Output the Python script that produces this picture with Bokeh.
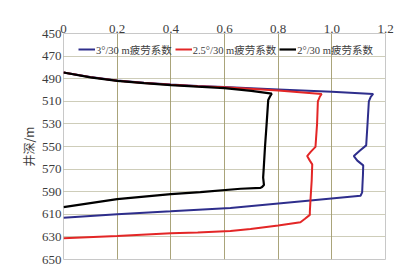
from bokeh.plotting import figure
from bokeh.models import Range1d, FixedTicker, CustomJSTickFormatter, Legend, LegendItem
from bokeh.embed import file_html
from bokeh.resources import INLINE

# ---- data (fatigue factor vs. well depth) ----
x_ticks = [0, 0.2, 0.4, 0.6, 0.8, 1.0, 1.2]
y_ticks = [450, 470, 490, 510, 530, 550, 570, 590, 610, 630, 650]

labels = ["3°/30 m疲劳系数", "2.5°/30 m疲劳系数", "2°/30 m疲劳系数"]

f3_factor = [0, 0.1, 0.2, 0.3, 0.4, 0.5, 0.6, 0.8, 1.0, 1.154, 1.145, 1.138, 1.133, 1.128,
             1.105, 1.082, 1.095, 1.117, 1.116, 1.114, 1.113, 1.107, 0.9, 0.622, 0.4, 0.2, 0]
f3_depth = [484.5, 488.4, 491.6, 493.6, 495.2, 496.4, 497.4, 499.5, 501.5, 503.5, 506, 510, 530, 549,
            553.5, 558.5, 562.5, 566.7, 575, 585, 590.6, 593.6, 598.2, 604.4, 607.4, 610, 613]

f25_factor = [0, 0.1, 0.2, 0.3, 0.4, 0.5, 0.6, 0.8, 0.962, 0.955, 0.948, 0.945, 0.939,
              0.922, 0.908, 0.918, 0.927, 0.925, 0.921, 0.918, 0.918, 0.9, 0.883, 0.8, 0.697,
              0.622, 0.5, 0.4, 0.2, 0]
f25_depth = [484.5, 488.6, 491.8, 493.8, 495.4, 496.6, 497.6, 500.5, 503.5, 506, 510, 530, 550.3,
             554.5, 558.5, 562.5, 565.8, 580, 595, 608, 610.5, 614, 617, 620, 623,
             624.8, 626, 626.8, 629.2, 631.2]

f2_factor = [0, 0.1, 0.2, 0.3, 0.4, 0.5, 0.6, 0.7, 0.776, 0.77, 0.763, 0.757, 0.751, 0.746,
             0.744, 0.747, 0.74, 0.734, 0.66, 0.51, 0.4, 0.2, 0]
f2_depth = [484.5, 488.8, 492, 494, 495.6, 497, 498.3, 500.8, 503.2, 505.5, 508.8, 530, 550, 570,
            577.5, 584, 585.8, 586.6, 587.4, 590.4, 592.2, 596.5, 603.6]

colors = ["#2e2e8c", "#e32626", "#000000"]

# ---- figure ----
p = figure(width=415, height=273, output_backend="svg", toolbar_location=None,
           x_range=Range1d(0, 1.2), y_range=Range1d(650, 450),
           x_axis_location="above",
           min_border_left=63, min_border_right=30, min_border_top=33, min_border_bottom=14)
p.background_fill_color = "white"
p.border_fill_color = "white"
p.outline_line_color = "#c8c8c8"
p.outline_line_width = 1

r3 = p.line(f3_factor, f3_depth, line_color=colors[0], line_width=2)
r25 = p.line(f25_factor, f25_depth, line_color=colors[1], line_width=2)
r2 = p.line(f2_factor, f2_depth, line_color=colors[2], line_width=2.2)

# axes
p.xaxis.ticker = FixedTicker(ticks=x_ticks)
p.xaxis.formatter = CustomJSTickFormatter(code="return tick == 0 ? '0' : tick.toFixed(1);")
p.yaxis.ticker = FixedTicker(ticks=y_ticks)
for ax in (p.xaxis[0], p.yaxis[0]):
    ax.axis_line_color = None
    ax.major_tick_line_color = None
    ax.minor_tick_line_color = None
    ax.major_tick_out = 0
    ax.major_tick_in = 0
    ax.minor_tick_out = 0
    ax.minor_tick_in = 0
    ax.major_label_text_font = "Liberation Serif"
    ax.major_label_text_font_size = "13px"
    ax.major_label_text_color = "#3c3c3c"
p.xaxis.major_label_standoff = 1
p.yaxis.major_label_standoff = 2
p.yaxis.axis_label = "井深/m"
p.yaxis.axis_label_text_font = "Noto Sans CJK SC"
p.yaxis.axis_label_text_font_style = "normal"
p.yaxis.axis_label_text_font_size = "12px"
p.yaxis.axis_label_text_color = "#3c3c3c"
p.yaxis.axis_label_standoff = 2

# grids
p.xgrid.ticker = FixedTicker(ticks=x_ticks)
p.xgrid.grid_line_color = "#aaa47a"
p.xgrid.grid_line_width = 1
p.ygrid.ticker = FixedTicker(ticks=y_ticks)
p.ygrid.grid_line_color = "#9c9a72"
p.ygrid.grid_line_dash = "1 1"
p.ygrid.grid_line_width = 1

legend = Legend(items=[LegendItem(label=labels[0], renderers=[r3]),
                       LegendItem(label=labels[1], renderers=[r25]),
                       LegendItem(label=labels[2], renderers=[r2])],
                orientation="horizontal", location=(15, 200),
                background_fill_alpha=0, border_line_color=None,
                padding=0, spacing=3, label_standoff=1,
                glyph_width=17, glyph_height=20, label_height=20,
                label_text_font="Liberation Serif, Noto Sans CJK SC",
                label_text_font_size="10.5px", label_text_color="#3c3c3c")
p.add_layout(legend, "center")

open("out.html", "w").write(file_html(p, INLINE))
